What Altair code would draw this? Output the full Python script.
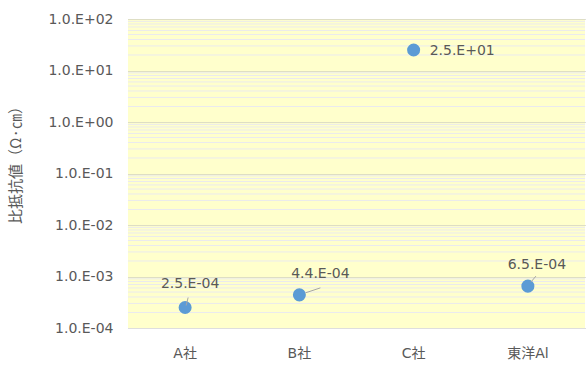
import altair as alt
import pandas as pd
import math

categories = ["A社", "B社", "C社", "東洋Al"]
resistivity = [2.5e-4, 4.4e-4, 2.5e1, 6.5e-4]

major_ticks = [1e-4, 1e-3, 1e-2, 1e-1, 1e0, 1e1, 1e2]
minor_ticks = [m * 10.0 ** k for k in range(-4, 2) for m in range(2, 10)]


def fmt(v):
    e = int(math.floor(math.log10(v) + 1e-9))
    m = v / 10 ** e
    return f"{m:.1f}.E{'+' if e >= 0 else '-'}{abs(e):02d}"


df = pd.DataFrame({"cat": categories, "val": resistivity})
df["label"] = [fmt(v) for v in resistivity]
minor_df = pd.DataFrame({"v": minor_ticks})

FONT = "DejaVu Sans, Noto Sans CJK JP"
CJK = "Noto Sans CJK JP"
TXT = "#595959"

# label offsets (style, not data): dx, dy, align
label_style = {
    "A社": (5, -24, "center"),
    "B社": (21, -21, "center"),
    "C社": (16, 1, "left"),
    "東洋Al": (9, -21, "center"),
}
leader_style = {
    "A社": (1, -2, 3, -10),
    "B社": (6, -2, 21, -7),
    "東洋Al": (3, -4, 8, -10),
}

xaxis = alt.Axis(title=None, labelAngle=0, ticks=False, domain=False,
                 labelFont=FONT, labelFontSize=14, labelColor=TXT,
                 labelPadding=18, grid=False)
xenc = alt.X("cat:N", sort=categories, scale=alt.Scale(paddingInner=0, paddingOuter=0),
             axis=xaxis)
yscale = alt.Scale(type="log", domain=[1e-4, 100], nice=False)

label_expr = ("'1.0.E' + (round(log(datum.value)/LN10) < 0 ? '-' : '+') + "
              "pad(toString(abs(round(log(datum.value)/LN10))), 2, '0', 'left')")

yaxis = alt.Axis(values=major_ticks, labelExpr=label_expr, title="比抵抗値（Ω·㎝）",
                 ticks=False, domain=False, grid=True, gridColor="#BDBDBD",
                 gridDash=[1, 1], gridWidth=1,
                 labelFont=FONT, labelFontSize=14, labelColor=TXT, labelPadding=15,
                 titleFont=CJK, titleFontSize=15, titleColor=TXT,
                 titleFontWeight="normal", titleX=-113, titleY=142,
                 titleAngle=270, titleAlign="center", titleBaseline="middle")

minor = alt.Chart(minor_df).mark_rule(color="#EAEAEE", strokeWidth=1).encode(
    y=alt.Y("v:Q", scale=yscale, axis=yaxis)
)

points = alt.Chart(df).mark_circle(size=170, color="#5B9BD5", opacity=1).encode(
    x=xenc,
    y=alt.Y("val:Q", scale=yscale, axis=yaxis),
)

layers = [minor, points]
for cat, (x1, y1, x2, y2) in leader_style.items():
    layers.append(
        alt.Chart(df).transform_filter(alt.datum.cat == cat).mark_rule(
            color="#A6A6A6", strokeWidth=1, xOffset=x1, yOffset=y1, x2Offset=x2, y2Offset=y2
        ).encode(x=xenc, y=alt.Y("val:Q", scale=yscale, axis=yaxis),
                 x2="cat:N", y2="val:Q")
    )
for cat, (dx, dy, align) in label_style.items():
    layers.append(
        alt.Chart(df).transform_filter(alt.datum.cat == cat).mark_text(
            dx=dx, dy=dy, align=align, baseline="middle", font=FONT, fontSize=14, color=TXT
        ).encode(x=xenc, y=alt.Y("val:Q", scale=yscale, axis=yaxis), text="label:N")
    )

chart = alt.layer(*layers).properties(
    width=457, height=309,
    autosize=alt.AutoSizeParams(type="none"),
    padding={"left": 128, "top": 19, "right": 1, "bottom": 37},
    background="white",
).configure_view(fill="#FFFFCC", stroke=None)

chart.save("out.html", embed_options={"renderer": "svg", "actions": False})
